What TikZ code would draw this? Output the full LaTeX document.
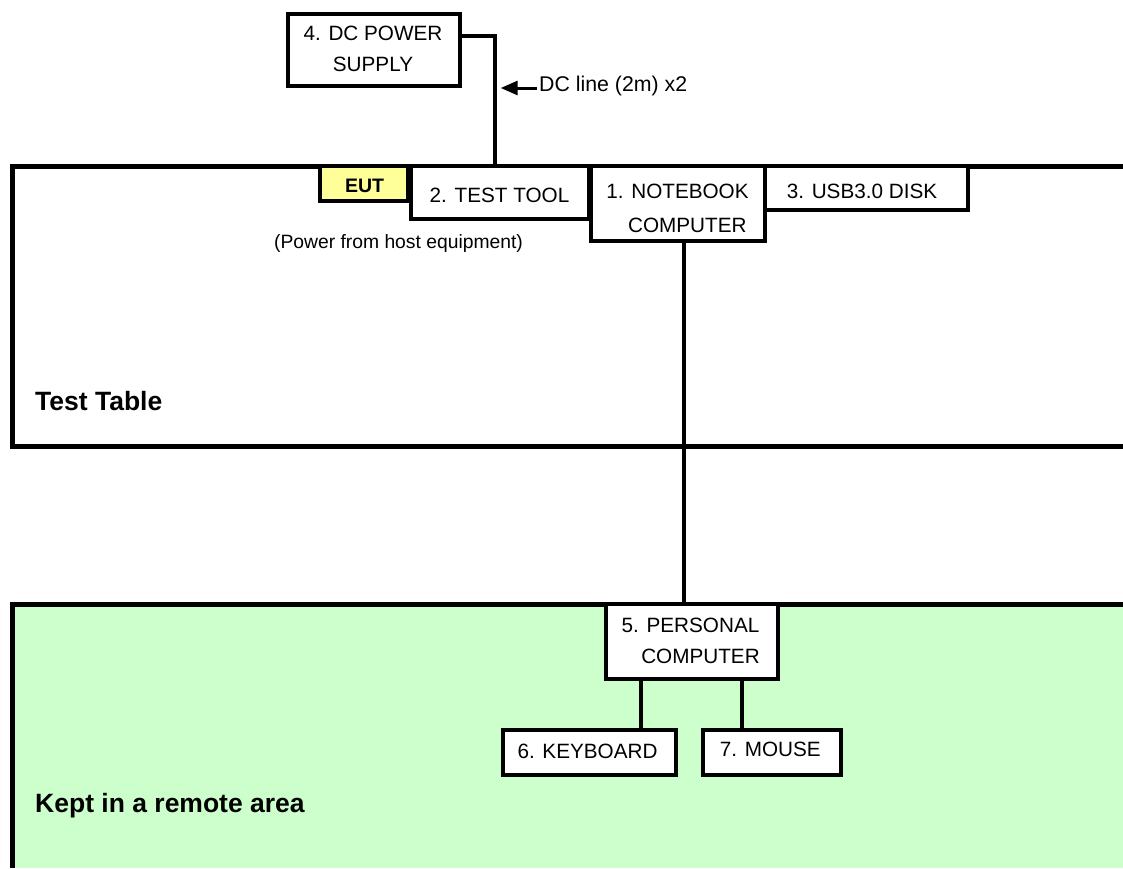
\documentclass[tikz,border=0pt]{standalone}
\usepackage{fontspec}
\setmainfont{Liberation Sans}
\usetikzlibrary{arrows.meta}
\definecolor{euty}{HTML}{FFFF99}
\definecolor{remg}{HTML}{CCFFCC}
\begin{document}
\begin{tikzpicture}[x=1pt,y=-1pt,
  boxn/.style={draw=black, line width=4pt, fill=white, inner sep=0pt, minimum width=#1},
  txt/.style={inner sep=0pt, anchor=base, font=\fontsize{20.7}{24}\selectfont},
  btxt/.style={inner sep=0pt, anchor=base west, font=\fontsize{26.5}{30}\selectfont\bfseries},
  wire/.style={line width=4pt},
  area/.style={line width=5pt}]
\useasboundingbox (0,0) rectangle (1123,868);
% remote area
\fill[remg] (12.5,604) rectangle (1123,868);
\draw[area] (1123,604) -- (12.5,604) -- (12.5,868);
% test table
\draw[area] (1123,166) -- (12.5,166) -- (12.5,446) -- (1123,446);
% boxes
\node[boxn=172pt, minimum height=72.6pt] (dc) at (374,50) {};
\node[boxn=88pt, minimum height=35pt, fill=euty] (eut) at (364,183.7) {};
\node[boxn=178pt, minimum height=52.7pt] (tool) at (500,192.3) {};
\node[boxn=174pt, minimum height=75pt] (nb) at (678,203.5) {};
\node[boxn=203pt, minimum height=44pt] (usb) at (866.5,188) {};
\node[boxn=172.5pt, minimum height=74.7pt] (pc) at (691.75,641.3) {};
\node[boxn=173pt, minimum height=45pt] (kb) at (589.2,752.2) {};
\node[boxn=138pt, minimum height=45pt] (ms) at (771.7,752.2) {};
% texts
\node[txt] (dcA) at (373,40) {4. DC POWER};
\node[txt] (dcB) at (373,71) {SUPPLY};
\node[txt, font=\fontsize{19.5}{22}\selectfont\bfseries] (eutT) at (364.5,192.7) {EUT};
\node[txt] (toolT) at (499.5,202.7) {2. TEST TOOL};
\node[txt] (nbA) at (677.5,198.6) {1. NOTEBOOK};
\node[txt] (nbB) at (687.3,232.7) {COMPUTER};
\node[txt] (usbT) at (862,198.6) {3. USB3.0 DISK};
\node[txt, font=\fontsize{19.3}{22}\selectfont] (pwr) at (398.5,248) {(Power from host equipment)};
\node[txt, anchor=base west, font=\fontsize{21.3}{24}\selectfont] (dcl) at (539,91.7) {DC line (2m) x2};
\node[txt] (pcA) at (690.5,632.3) {5. PERSONAL};
\node[txt] (pcB) at (700.5,663.3) {COMPUTER};
\node[txt] (kbT) at (587.5,758) {6. KEYBOARD};
\node[txt] (msT) at (770.3,756) {7. MOUSE};
\node[btxt] (tt) at (35,410.7) {Test Table};
\node[btxt] (kept) at (35,812.7) {Kept in a remote area};
% connectors
\draw[wire] ([yshift=14pt]dc.east) -| ([xshift=-5.3pt]tool.north);
\coordinate (arrS) at (537,88);
\coordinate (arrE) at (500.7,88);
\draw[line width=3pt, -{Triangle[length=17pt,width=14pt]}] (arrS) -- (arrE);
\draw[wire] ([xshift=5.5pt]nb.south) -- ([xshift=5.5pt]nb.south |- pc.north);
\draw[wire] ([xshift=37pt]pc.south west) -- ([xshift=37pt]pc.south west |- kb.north);
\draw[wire] ([xshift=138.5pt]pc.south west) -- ([xshift=138.5pt]pc.south west |- ms.north);
\end{tikzpicture}
\end{document}
